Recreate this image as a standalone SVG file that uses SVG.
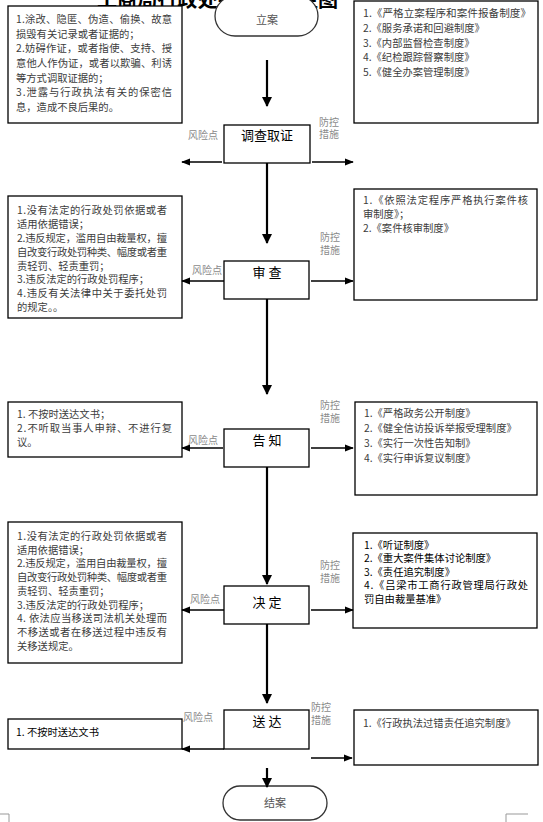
<svg xmlns="http://www.w3.org/2000/svg" width="543" height="822" viewBox="0 0 543 822">
<style>
.box{fill:#fff;stroke:#000;stroke-width:1.3}
.t{font-family:"Noto Sans CJK SC","Liberation Serif",serif;font-size:10.3px;fill:#3c3c3c}
.tb{font-family:"Noto Sans CJK SC","Liberation Serif",serif;font-size:10.3px;fill:#000}
.lab{font-family:"Noto Sans CJK SC","Liberation Sans",sans-serif;font-size:10px;fill:#8a8a8a}
.ttl{font-family:"Noto Sans CJK SC","Liberation Sans",sans-serif;font-size:13px;fill:#000;text-anchor:middle}
.term{font-family:"Noto Sans CJK SC","Liberation Sans",sans-serif;font-size:11px;fill:#555;text-anchor:middle}
.v{stroke:#000;stroke-width:2.2;fill:none}
.h{stroke:#000;stroke-width:1.3;fill:none}
</style>
<defs>
<marker id="ah" viewBox="0 0 10 8" refX="9" refY="4" markerWidth="9" markerHeight="8" markerUnits="userSpaceOnUse" orient="auto"><path d="M0,0 L10,4 L0,8 z" fill="#000"/></marker>
<marker id="av" viewBox="0 0 10 10" refX="9" refY="5" markerWidth="10" markerHeight="10" markerUnits="userSpaceOnUse" orient="auto"><path d="M0,0 L10,5 L0,10 z" fill="#000"/></marker>
</defs>

<text x="97" y="7" font-family="Noto Sans CJK SC,sans-serif" font-weight="bold" font-size="20" textLength="241" lengthAdjust="spacingAndGlyphs">工商局行政处罚风险防控图</text>

<g id="start">
<rect x="215" y="-4" width="103" height="40" rx="20" fill="#fff" stroke="#333" stroke-width="1.3"/>
<text class="term" x="267" y="24">立案</text>
</g>

<g id="risk1">
<rect class="box" x="8" y="6" width="174" height="117"/>
<text class="t" x="16" y="23" textLength="156" lengthAdjust="spacing">1.涂改、隐匿、伪造、偷换、故意</text>
<text class="t" x="16" y="38">损毁有关记录或者证据的；</text>
<text class="t" x="16" y="52" textLength="156" lengthAdjust="spacing">2.妨碍作证，或者指使、支持、授</text>
<text class="t" x="16" y="67" textLength="156" lengthAdjust="spacing">意他人作伪证，或者以欺骗、利诱</text>
<text class="t" x="16" y="82">等方式调取证据的；</text>
<text class="t" x="16" y="96" textLength="156" lengthAdjust="spacing">3.泄露与行政执法有关的保密信</text>
<text class="t" x="16" y="111">息，造成不良后果的。</text>
</g>

<g id="measure1">
<rect class="box" x="354" y="1" width="184" height="122"/>
<text class="t" x="363" y="17" textLength="168" lengthAdjust="spacingAndGlyphs">1.《严格立案程序和案件报备制度》</text>
<text class="t" x="363" y="32">2.《服务承诺和回避制度》</text>
<text class="t" x="363" y="47">3.《内部监督检查制度》</text>
<text class="t" x="363" y="61">4.《纪检跟踪督察制度》</text>
<text class="t" x="363" y="76">5.《健全办案管理制度》</text>
</g>

<g id="investigate">
<rect class="box" x="224" y="125" width="86" height="38"/>
<text class="ttl" x="267" y="140">调查取证</text>
<text class="lab" x="188" y="139">风险点</text>
<text class="lab" x="319" y="126">防控</text>
<text class="lab" x="319" y="138">措施</text>
</g>

<g id="risk2">
<rect class="box" x="8" y="196" width="174" height="122"/>
<text class="t" x="17" y="214" textLength="150" lengthAdjust="spacing">1.没有法定的行政处罚依据或者</text>
<text class="t" x="17" y="228">适用依据错误；</text>
<text class="t" x="17" y="242" textLength="150" lengthAdjust="spacing">2.违反规定，滥用自由裁量权，擅</text>
<text class="t" x="17" y="256" textLength="150" lengthAdjust="spacing">自改变行政处罚种类、幅度或者重</text>
<text class="t" x="17" y="270">责轻罚、轻责重罚；</text>
<text class="t" x="17" y="283">3.违反法定的行政处罚程序；</text>
<text class="t" x="17" y="297" textLength="150" lengthAdjust="spacing">4.违反有关法律中关于委托处罚</text>
<text class="t" x="17" y="311">的规定。。</text>
</g>

<g id="measure2">
<rect class="box" x="354" y="189" width="183" height="111"/>
<text class="t" x="363" y="204" textLength="165" lengthAdjust="spacing">1.《依照法定程序严格执行案件核</text>
<text class="t" x="363" y="218">审制度》；</text>
<text class="t" x="363" y="232">2.《案件核审制度》</text>
</g>

<g id="review">
<rect class="box" x="224" y="261" width="85" height="38"/>
<text class="ttl" x="267" y="277">审 查</text>
<text class="lab" x="192" y="274">风险点</text>
<text class="lab" x="320" y="241">防控</text>
<text class="lab" x="320" y="254">措施</text>
</g>

<g id="risk3">
<rect class="box" x="8" y="402" width="174" height="55"/>
<text class="t" x="17" y="418">1. 不按时送达文书；</text>
<text class="t" x="17" y="432" textLength="155" lengthAdjust="spacing">2.不听取当事人申辩、不进行复</text>
<text class="t" x="17" y="446">议。</text>
</g>

<g id="measure3">
<rect class="box" x="355" y="402" width="182" height="93"/>
<text class="t" x="364" y="417">1.《严格政务公开制度》</text>
<text class="t" x="364" y="432">2.《健全信访投诉举报受理制度》</text>
<text class="t" x="364" y="447">3.《实行一次性告知制》</text>
<text class="t" x="364" y="462">4.《实行申诉复议制度》</text>
</g>

<g id="inform">
<rect class="box" x="224" y="429" width="85" height="38"/>
<text class="ttl" x="267" y="445">告 知</text>
<text class="lab" x="188" y="444">风险点</text>
<text class="lab" x="320" y="409">防控</text>
<text class="lab" x="320" y="422">措施</text>
</g>

<g id="risk4">
<rect class="box" x="8" y="522" width="174" height="141"/>
<text class="t" x="17" y="540" textLength="150" lengthAdjust="spacing">1.没有法定的行政处罚依据或者</text>
<text class="t" x="17" y="554">适用依据错误；</text>
<text class="t" x="17" y="567" textLength="150" lengthAdjust="spacing">2.违反规定，滥用自由裁量权，擅</text>
<text class="t" x="17" y="581" textLength="150" lengthAdjust="spacing">自改变行政处罚种类、幅度或者重</text>
<text class="t" x="17" y="595">责轻罚、轻责重罚；</text>
<text class="t" x="17" y="609">3.违反法定的行政处罚程序；</text>
<text class="t" x="17" y="622" textLength="150" lengthAdjust="spacing">4. 依法应当移送司法机关处理而</text>
<text class="t" x="17" y="636" textLength="150" lengthAdjust="spacing">不移送或者在移送过程中违反有</text>
<text class="t" x="17" y="650">关移送规定。</text>
</g>

<g id="measure4">
<rect class="box" x="353" y="533" width="184" height="95"/>
<text class="tb" x="364" y="549">1.《听证制度》</text>
<text class="tb" x="364" y="562">2.《重大案件集体讨论制度》</text>
<text class="tb" x="364" y="576">3.《责任追究制度》</text>
<text class="tb" x="364" y="589" textLength="164" lengthAdjust="spacing">4.《吕梁市工商行政管理局行政处</text>
<text class="tb" x="364" y="603">罚自由裁量基准》</text>
</g>

<g id="decide">
<rect class="box" x="224" y="586" width="85" height="38"/>
<text class="ttl" x="267" y="607">决 定</text>
<text class="lab" x="190" y="603">风险点</text>
<text class="lab" x="320" y="569">防控</text>
<text class="lab" x="320" y="582">措施</text>
</g>

<g id="risk5">
<rect class="box" x="8" y="719" width="174" height="30"/>
<text class="tb" x="16" y="736" font-size="11">1. 不按时送达文书</text>
</g>

<g id="measure5">
<rect class="box" x="354" y="710" width="184" height="55"/>
<text class="t" x="363" y="727">1.《行政执法过错责任追究制度》</text>
</g>

<g id="deliver">
<rect class="box" x="224" y="710" width="85" height="39"/>
<text class="ttl" x="267" y="726">送 达</text>
<text class="lab" x="183" y="721">风险点</text>
<text class="lab" x="311" y="711">防控</text>
<text class="lab" x="311" y="724">措施</text>
</g>

<g id="end">
<rect x="223" y="786" width="104" height="34" rx="17" fill="#fff" stroke="#333" stroke-width="1.3"/>
<text class="term" x="275" y="807">结案</text>
</g>

<g id="connectors">
<line class="v" x1="267" y1="60" x2="267" y2="106" marker-end="url(#av)"/>
<line class="v" x1="267" y1="163" x2="267" y2="243" marker-end="url(#av)"/>
<line class="v" x1="267" y1="299" x2="267" y2="394" marker-end="url(#av)"/>
<line class="v" x1="267" y1="467" x2="267" y2="584" marker-end="url(#av)"/>
<line class="v" x1="267" y1="624" x2="267" y2="703" marker-end="url(#av)"/>
<line class="v" x1="267" y1="768" x2="267" y2="787" marker-end="url(#av)"/>
<line class="h" x1="222" y1="162" x2="182" y2="162" marker-end="url(#ah)"/>
<line class="h" x1="312" y1="162" x2="353" y2="162" marker-end="url(#ah)"/>
<line class="h" x1="224" y1="281" x2="182" y2="281" marker-end="url(#ah)"/>
<line class="h" x1="311" y1="281" x2="353" y2="281" marker-end="url(#ah)"/>
<line class="h" x1="223" y1="448" x2="182" y2="448" marker-end="url(#ah)"/>
<line class="h" x1="311" y1="448" x2="353" y2="448" marker-end="url(#ah)"/>
<line class="h" x1="224" y1="610" x2="182" y2="610" marker-end="url(#ah)"/>
<line class="h" x1="311" y1="610" x2="353" y2="610" marker-end="url(#ah)"/>
<line class="h" x1="224" y1="749" x2="182" y2="749" marker-end="url(#ah)"/>
<line class="h" x1="311" y1="758" x2="352" y2="758" marker-end="url(#ah)"/>
</g>

<path d="M0,814 H9 V822 M506,822 V814 H528" fill="none" stroke="#999" stroke-width="1"/>
</svg>
